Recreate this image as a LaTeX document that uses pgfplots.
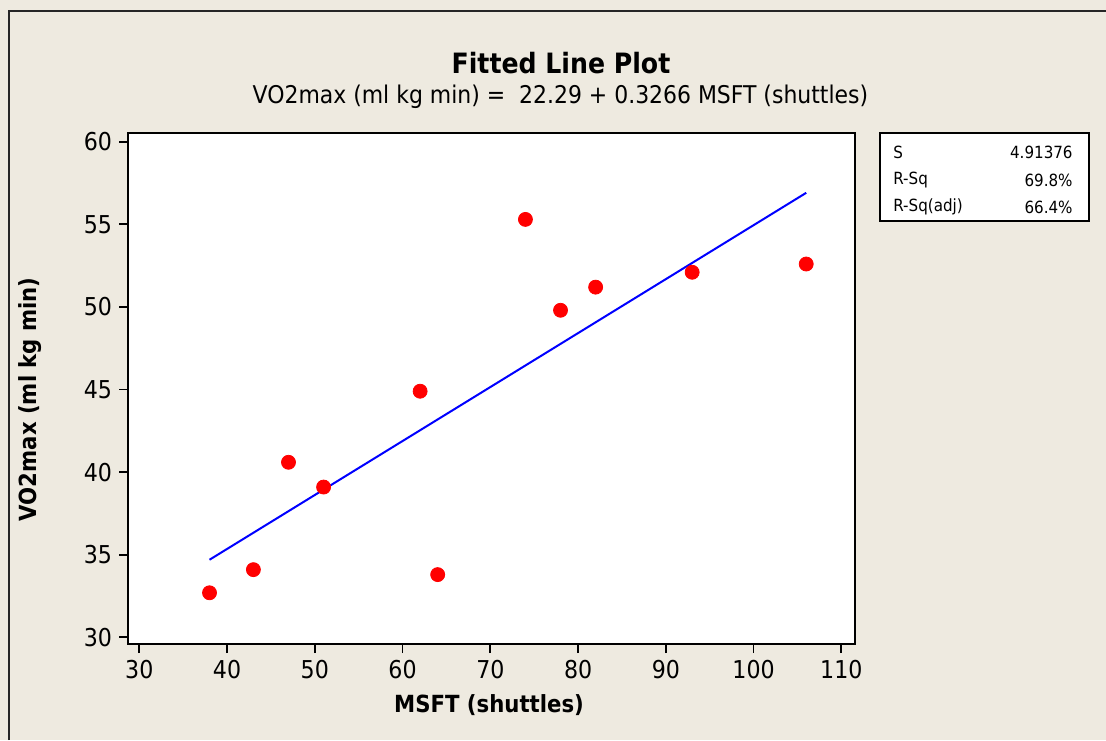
\documentclass[border=0pt]{standalone}
\usepackage{pgfplots}
\pgfplotsset{compat=1.18}
\usepackage{fontspec}
\setmainfont{DejaVu Sans Condensed}
\definecolor{bgbeige}{RGB}{238,234,224}

\begin{document}
\begin{tikzpicture}[x=0.5pt,y=0.5pt]
% page background and the frame lines
\fill[bgbeige] (0,0) rectangle (1106,740);
\draw[line width=1pt, black!85] (9,0) -- (9,729) -- (1106,729);

\begin{axis}[
    at={(64pt,48pt)}, anchor=south west,
    scale only axis,
    width=363.5pt, height=255.5pt,
    xmin=28.71, xmax=111.56,
    ymin=29.6, ymax=60.53,
    xtick={30,40,...,110},
    ytick={30,35,...,60},
    xtick pos=lower, ytick pos=left,
    tick align=outside,
    major tick length=4.5pt,
    tick style={black, line width=0.9pt},
    axis line style={black, line width=1pt},
    axis background/.style={fill=white},
    ticklabel style={font=\fontsize{12.3}{14}\selectfont},
    /pgf/number format/assume math mode=true,
    xlabel={\textbf{MSFT (shuttles)}},
    ylabel={\textbf{VO2max (ml kg min)}},
    label style={font=\fontsize{11.8}{13}\selectfont},
    xlabel style={at={(axis description cs:0.4966,-0.1194)}, anchor=center},
    ylabel style={at={(axis description cs:-0.1348,0.479)}, anchor=center},
    clip=false,
]
% observations
\addplot[only marks, mark=*, mark size=3.5pt, color=red, mark options={draw=red, fill=red}]
coordinates {
(38,32.7) (43,34.1) (47,40.6) (51,39.1) (62,44.9) (64,33.8)
(74,55.3) (78,49.8) (82,51.2) (93,52.1) (106,52.6)
};
% fitted line
\addplot[blue, line width=1pt] coordinates {(38,34.70) (106,56.91)};
\end{axis}

% titles
\node[font=\fontsize{14}{16}\selectfont\bfseries] at (561,677) {Fitted Line Plot};
\node[font=\fontsize{12.2}{14}\selectfont] at (560.5,643) {VO2max (ml kg min) = \ 22.29 + 0.3266 MSFT (shuttles)};

% summary box
\draw[line width=0.8pt, fill=white] (880,607) rectangle (1089,519);
\begin{scope}[every node/.style={font=\fontsize{8.4}{9}\selectfont, inner sep=0pt}]
\node[anchor=west] at (893,588) {S};
\node[anchor=west] at (893,560) {R-Sq};
\node[anchor=west] at (893,533) {R-Sq(adj)};
\node[anchor=east] at (1073,588) {4.91376};
\node[anchor=east] at (1073,560) {69.8\%};
\node[anchor=east] at (1073,533) {66.4\%};
\end{scope}

\pgfresetboundingbox
\path[use as bounding box] (0,0) rectangle (1106,740);
\end{tikzpicture}
\end{document}
